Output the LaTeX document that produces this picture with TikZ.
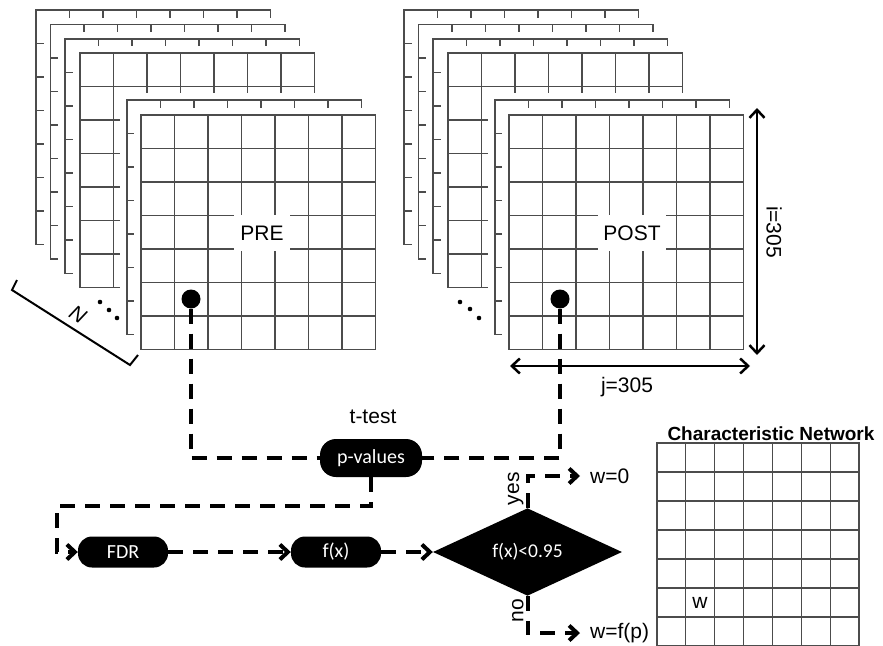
\documentclass[tikz,border=0pt]{standalone}
\usepackage{fontspec}
\setmainfont{Liberation Sans}
\newfontfamily\calib{Carlito}
\usetikzlibrary{positioning,arrows.meta,shapes.geometric}
\tikzset{
>={Straight Barb[length=8pt,width=15pt]},
gridline/.style={draw=black!70, line width=1.1pt},
flow/.style={line width=4pt, dash pattern=on 15pt off 10pt},
dim/.style={line width=2.5pt, <->},
dot/.style={circle, fill=black, minimum size=19pt, inner sep=0pt},
proc/.style={fill=black, text=white, rounded corners=14pt, minimum width=90pt, minimum height=31pt, inner sep=2pt, font=\calib\fontsize{20}{21}\selectfont},
decision/.style={diamond, fill=black, text=white, minimum width=189pt, minimum height=59pt, inner sep=0pt, font=\calib\fontsize{19.5}{20}\selectfont},
lbl/.style={font=\fontsize{21}{24}\selectfont, inner sep=2pt},
}

\begin{document}
\begin{tikzpicture}
    [x=1pt, y=-1pt, node distance=213pt]
    \useasboundingbox (0,0) rectangle (883,645);

    %stacks of sheets, PRE left and POST right
    \foreach \sx in {0,368}{
      \foreach \dx/\dy in {0/0,14.5/14.5,29/29,44/43,91/90,105/105}{
        \begin{scope}[shift={(36+\sx+\dx,10+\dy)}]
          \fill[white] (-7,-7) rectangle (241.5,241.5);
          \draw[gridline] (0,0) rectangle (234.5,234.5);
          \foreach \k in {1,...,6}{
            \draw[gridline] (\k*33.5,0) -- (\k*33.5,234.5);
            \draw[gridline] (0,\k*33.5) -- (234.5,\k*33.5);
          }
        \end{scope}
      }
    }

    %dots between the sheets
    \foreach \px/\py in {100/302,109/310,117/318,460/302,470/309,479/318}
      \fill (\px,\py) circle[radius=2.3pt];

    \node[lbl, fill=white, inner xsep=6pt, inner ysep=11pt] (pre) at (262,233) {PRE};
    \node[lbl, fill=white, inner xsep=5pt, inner ysep=11pt] (post) at (632,233) {POST};

    %N bracket
    \draw[line width=2pt] (17,280) -- (12,290) -- (130,365) -- (138,355);
    \node[font=\itshape\fontsize{21}{24}\selectfont, rotate=-32.4] (n) at (78,314) {N};

    %size arrows
    \coordinate (itop) at (757,108);
    \coordinate (ibot) at (757,355);
    \coordinate (jleft) at (510,366);
    \coordinate (jright) at (750,366);
    \draw[dim] (itop) -- (ibot);
    \draw[dim] (jleft) -- (jright);
    \node[lbl, rotate=-90] (ilbl) at (774,232) {i=305};
    \node[lbl] (jlbl) at (627,387) {j=305};

    %flow
    \node[dot] (predot) at (191,299) {};
    \node[dot] (postdot) at (560,299) {};
    \node[proc, minimum width=102pt, minimum height=38pt, rounded corners=16pt] (pval) at (371,458) {p-values};
    \node[lbl] (ttest) at (373,417) {t-test};
    \node[proc] (fdr) at (123,552) {FDR};
    \node[proc, right of=fdr] (fx) {f(x)};
    \node[decision, right of=fx, node distance=191.5pt] (cond) {f(x)<0.95};
    \node[lbl, anchor=west, inner xsep=10pt] (wzero) at (580,476) {w=0};
    \node[lbl, anchor=west, inner xsep=10pt] (wfp) at (580,633) {w=f(p)};
    \coordinate (turn) at (57,506);

    \draw[flow] (predot) |- (pval.west);
    \draw[flow] (postdot) |- (pval.east);
    \draw[flow,->] (pval.south) |- (turn) |- (fdr.west);
    \draw[flow,->] (fdr) -- (fx);
    \draw[flow,->] (fx) -- (cond);
    \draw[flow,->] (cond.north) |- node[lbl, pos=0.3, rotate=90, anchor=south] (yes) {yes} (wzero.west);
    \draw[flow,->] (cond.south) |- node[lbl, pos=0.2, rotate=90, anchor=south] (no) {no} (wfp.west);

    %characteristic network
    \node[font=\bfseries\fontsize{19}{22}\selectfont] (cnet) at (771,434) {Characteristic Network};
    \begin{scope}[shift={(657,443)}]
      \draw[gridline] (0,0) rectangle (202,203);
      \foreach \k in {1,...,6}{
        \draw[gridline] (\k*28.86,0) -- (\k*28.86,203);
        \draw[gridline] (0,\k*29) -- (202,\k*29);
      }
    \end{scope}
    \node[lbl] (w) at (700,603) {w};

\end{tikzpicture}
\end{document}
